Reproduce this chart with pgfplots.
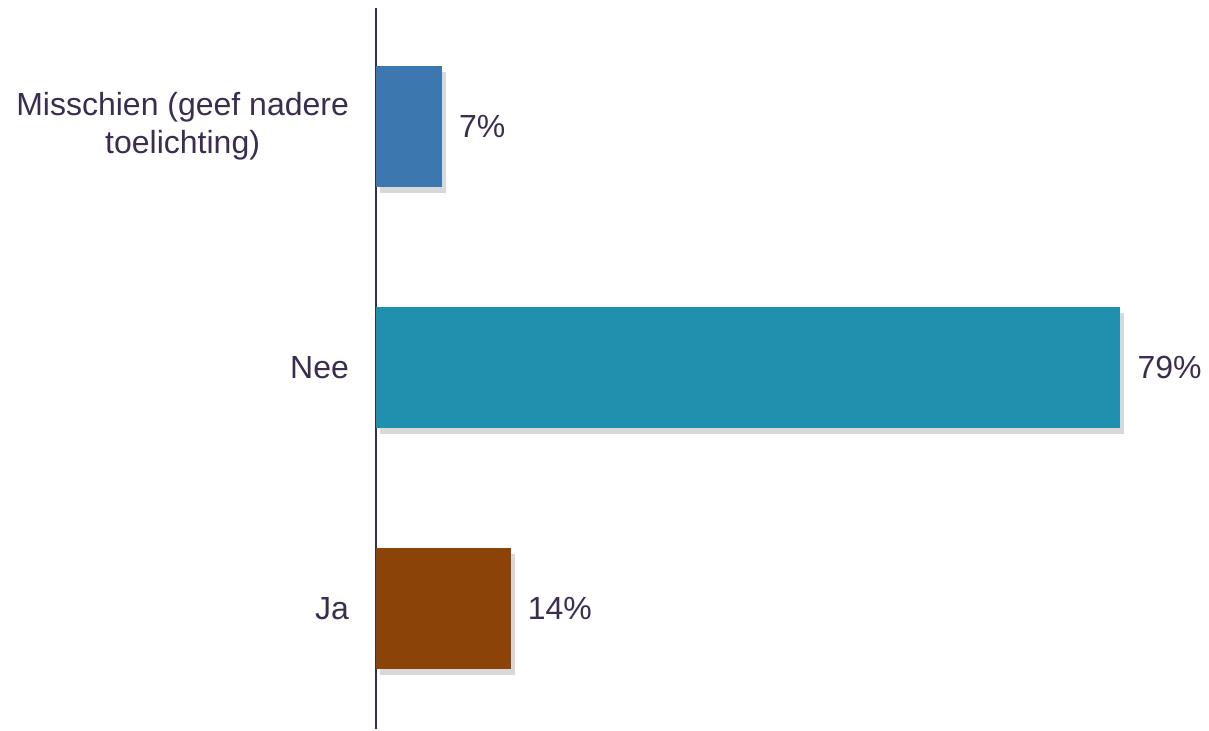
\documentclass[border=0pt]{standalone}
\usepackage{pgfplots}
\pgfplotsset{compat=1.18}
\usepackage{fontspec}
\setmainfont{Liberation Sans}
\usetikzlibrary{shadows}
\definecolor{txt}{HTML}{3B2D4E}
\definecolor{cblue}{HTML}{3C77AF}
\definecolor{cteal}{HTML}{2190AE}
\definecolor{cbrown}{HTML}{8B4308}
\tikzset{barsh/.style={drop shadow={shadow xshift=2pt, shadow yshift=-3pt, opacity=0.22, fill=black!70}}}
\begin{document}
\begin{tikzpicture}
\begin{axis}[
  name=ax,
  scale only axis,
  width=416.5pt, height=360.5pt,
  xbar, bar shift=0pt,
  xmin=0, xmax=88.4,
  ymin=-0.5, ymax=2.49,
  bar width=0.502,
  axis x line=none,
  axis y line=left,
  axis line style={-, txt, line width=1pt},
  ytick={0,1,2},
  yticklabels={Ja,Nee,{Misschien (geef nadere\\toelichting)}},
  major tick length=0pt,
  yticklabel style={align=center, text=txt, font=\fontsize{16}{19}\selectfont, xshift=-10pt},
  point meta=explicit symbolic,
  nodes near coords,
  nodes near coords style={anchor=west, xshift=5pt, text=txt, font=\fontsize{16}{19}\selectfont},
  clip=false,
]
\addplot[draw=none, fill=cbrown, barsh] coordinates {(14.3,0) [14\%]};
\addplot[draw=none, fill=cteal, barsh] coordinates {(79,1) [79\%]};
\addplot[draw=none, fill=cblue, barsh] coordinates {(7,2) [7\%]};
\end{axis}
\path ([xshift=-188pt]ax.south west) rectangle ([yshift=4pt]ax.north east);
\end{tikzpicture}
\end{document}
